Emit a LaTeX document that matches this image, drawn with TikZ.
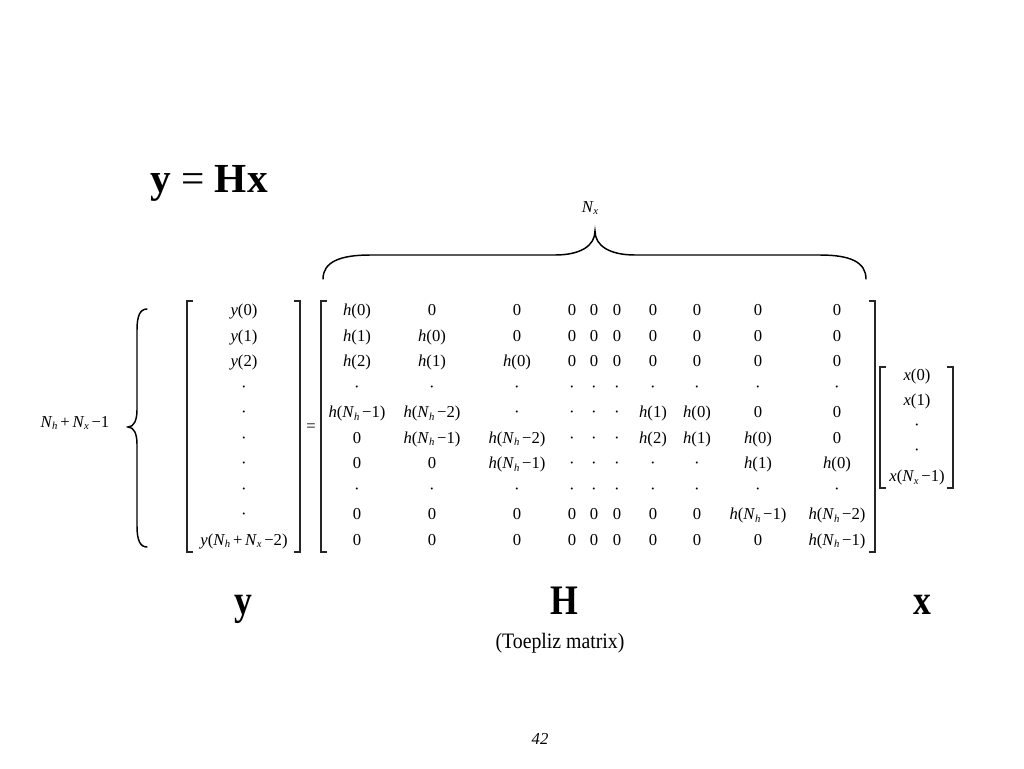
\documentclass[tikz,border=0pt]{standalone}
\usepackage{fontspec}
\usepackage{graphicx}
\setmainfont{Liberation Serif}
\newcommand{\hh}[1]{\textit{h}(#1)}
\newcommand{\yy}[1]{\textit{y}(#1)}
\newcommand{\xx}[1]{\textit{x}(#1)}
\newcommand{\Nb}[1]{\textit{N}\kern-0.02em\raisebox{-0.35ex}{\fontsize{8}{8}\selectfont\textit{#1}}}
\newcommand{\md}{·}
\newcommand{\hNa}{\hh{\Nb{h}\,−1}}
\newcommand{\hNb}{\hh{\Nb{h}\,−2}}
\def\colxs{{357,432,517,572,594,617,653,697,758,837}}
\tikzset{
  ent/.style={inner sep=0pt, anchor=base, font=\fontsize{12.5}{15}\selectfont},
  brk/.style={line width=0.8pt, black!85},
  brace/.style={line width=1.1pt, line cap=round},
  big/.style={inner sep=0pt, anchor=base, font=\fontsize{31.5}{36}\selectfont\bfseries}
}
\newcommand{\hrow}[3]{%
  \foreach [count=\j] \t in {#3}{%
    \pgfmathsetmacro{\cx}{\colxs[\j-1]}%
    \node[ent] (H#1c\j) at (\cx,#2) {\t};
  }}
\newcommand{\bracket}[4]{%
  \draw[brk] (#1+6,#3) -- (#1,#3) -- (#1,#4) -- (#1+6,#4);
  \draw[brk] (#2-6,#3) -- (#2,#3) -- (#2,#4) -- (#2-6,#4);}
\begin{document}
\begin{tikzpicture}[x=0.75pt,y=-0.75pt]
\fill[white] (0,0) rectangle (1024,768);
\useasboundingbox (0,0) rectangle (1024,768);
% title
\node[inner sep=0pt, anchor=base, font=\fontsize{31}{36}\selectfont] (title) at (209,192) {\textbf{y} = \textbf{Hx}};
% H matrix rows
\hrow{1}{315.5}{{\hh{0}},0,0,0,0,0,0,0,0,0}
\hrow{2}{341}{{\hh{1}},{\hh{0}},0,0,0,0,0,0,0,0}
\hrow{3}{366.5}{{\hh{2}},{\hh{1}},{\hh{0}},0,0,0,0,0,0,0}
\hrow{4}{392}{\md,\md,\md,\md,\md,\md,\md,\md,\md,\md}
\hrow{5}{417.5}{{\hNa},{\hNb},\md,\md,\md,\md,{\hh{1}},{\hh{0}},0,0}
\hrow{6}{443}{0,{\hNa},{\hNb},\md,\md,\md,{\hh{2}},{\hh{1}},{\hh{0}},0}
\hrow{7}{468.5}{0,0,{\hNa},\md,\md,\md,\md,\md,{\hh{1}},{\hh{0}}}
\hrow{8}{494}{\md,\md,\md,\md,\md,\md,\md,\md,\md,\md}
\hrow{9}{519.5}{0,0,0,0,0,0,0,0,{\hNa},{\hNb}}
\hrow{10}{545}{0,0,0,0,0,0,0,0,0,{\hNa}}
% y vector
\node[ent] (y1) at (244,315.5) {\yy{0}};
\node[ent] (y2) at (244,341) {\yy{1}};
\node[ent] (y3) at (244,366.5) {\yy{2}};
\node[ent] (y4) at (244,392) {\md};
\node[ent] (y5) at (244,417.5) {\md};
\node[ent] (y6) at (244,443) {\md};
\node[ent] (y7) at (244,468.5) {\md};
\node[ent] (y8) at (244,494) {\md};
\node[ent] (y9) at (244,519.5) {\md};
\node[ent] (y10) at (244,545) {\yy{\Nb{h}\,+\,\Nb{x}\,−2}};
% x vector
\node[ent] (x1) at (917,380.5) {\xx{0}};
\node[ent] (x2) at (917,405.5) {\xx{1}};
\node[ent] (x3) at (917,430.5) {\md};
\node[ent] (x4) at (917,455.5) {\md};
\node[ent] (x5) at (917,481.5) {\xx{\Nb{x}\,−1}};
% equals
\node[ent] (eq) at (311,431.5) {=};
% brackets
\bracket{187}{300}{301}{552}
\bracket{321}{875}{301}{552}
\bracket{880}{953}{367}{488}
% left brace
\draw[brace] (147,309) .. controls (140,309) and (137,316) .. (137,330) -- (137,410) .. controls (137,420) and (134,427) .. (128,427) .. controls (134,427) and (137,434) .. (137,444) -- (137,526) .. controls (137,540) and (140,547) .. (147,547);
\node[ent] (nlab) at (75,427) {\Nb{h}\,+\,\Nb{x}\,−1};
% top brace
\draw[brace] (323,279) .. controls (323,262) and (340,255) .. (370,255) -- (555,255) .. controls (580,255) and (595,246) .. (595,231) .. controls (595,246) and (610,255) .. (635,255) -- (820,255) .. controls (850,255) and (866,262) .. (866,279);
\node[ent] (nx) at (590,212) {\Nb{x}};
% bottom labels
\node[big] (ly) at (243,614) {\scalebox{0.85}[1]{y}};
\node[big] (lH) at (564,614) {\scalebox{0.85}[1]{H}};
\node[big] (lx) at (922,614) {\scalebox{0.85}[1]{x}};
\node[inner sep=0pt, anchor=base, font=\fontsize{16.5}{20}\selectfont] (toep) at (560,648) {\scalebox{0.9}[1]{(Toepliz matrix)}};
\node[inner sep=0pt, anchor=base, font=\fontsize{12.5}{15}\selectfont\itshape] (pg) at (540,744) {42};
\end{tikzpicture}
\end{document}
